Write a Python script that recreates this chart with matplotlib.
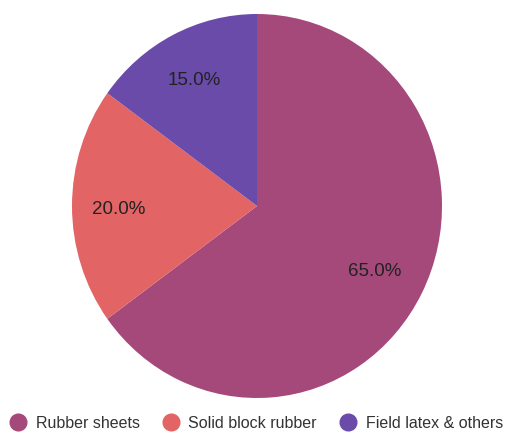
import matplotlib
matplotlib.use("Agg")
import matplotlib.pyplot as plt
from matplotlib.lines import Line2D

categories = ["Rubber sheets", "Solid block rubber", "Field latex & others"]
values = [65.0, 20.0, 15.0]
colors = ["#A5497A", "#E36464", "#6A4BAA"]

plt.rcParams['font.family'] = ['Liberation Sans', 'DejaVu Sans']

fig = plt.figure(figsize=(5.05, 4.32), dpi=100)
W, H = 505, 432
ax = fig.add_axes([72 / W, (H - 398) / H, 370 / W, 384 / H])

wedges, texts, autotexts = ax.pie(
    values, colors=colors, startangle=90, counterclock=False,
    autopct='%1.1f%%', pctdistance=0.75,
    wedgeprops=dict(linewidth=0),
    textprops=dict(fontsize=13.5, color='#222222'))
ax.set_aspect('auto')
ax.set_xlim(-1, 1)
ax.set_ylim(-1, 1)
# first label sits slightly closer to centre
x, y = autotexts[0].get_position()
autotexts[0].set_position((x * 0.955, y * 0.955))
for t in autotexts:
    x, y = t.get_position()
    t.set_position((x, y - 0.016))

handles = [Line2D([0], [0], marker='o', linestyle='none', markersize=12,
                  markerfacecolor=c, markeredgecolor=c) for c in colors]
fig.legend(handles, categories, loc='center', ncol=3, frameon=False,
           bbox_to_anchor=(256.5 / W, 1 - 423 / H),
           fontsize=11.5, handlelength=1.0, handletextpad=0.6,
           columnspacing=1.45, labelcolor='#333333', borderpad=0)

fig.savefig("out.png", dpi=100)
